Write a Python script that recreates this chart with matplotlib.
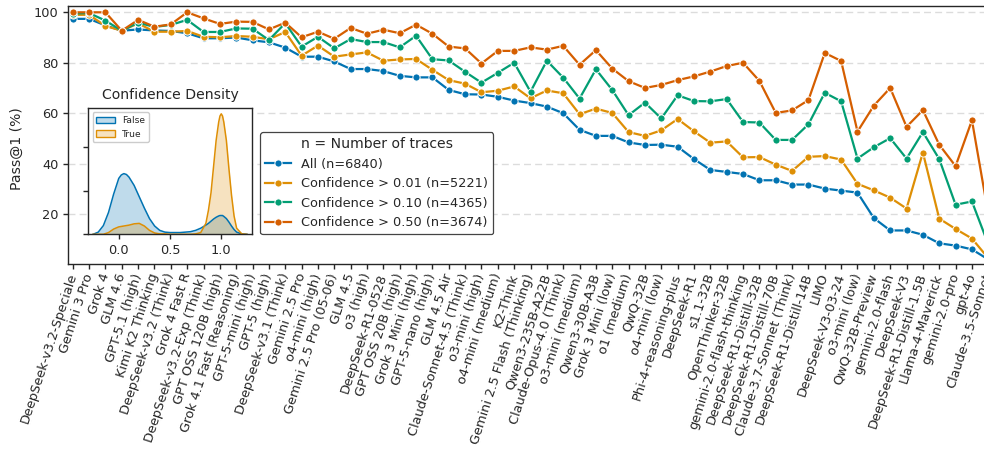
import matplotlib
matplotlib.use("Agg")
import matplotlib.pyplot as plt
from matplotlib.patches import Patch
import numpy as np

# models, ordered as on the x axis
models = [
    "DeepSeek-v3.2-Speciale", "Gemini 3 Pro", "Grok 4", "GLM 4.6", "GPT-5.1 (high)",
    "Kimi K2 Thinking", "DeepSeek-v3.2 (Think)", "Grok 4 Fast R", "DeepSeek-v3.2-Exp (Think)",
    "GPT OSS 120B (high)", "Grok 4.1 Fast (Reasoning)", "GPT-5-mini (high)", "GPT-5 (high)",
    "DeepSeek-v3.1 (Think)", "Gemini 2.5 Pro", "o4-mini (high)", "Gemini 2.5 Pro (05-06)",
    "GLM 4.5", "o3 (high)", "DeepSeek-R1-0528", "GPT OSS 20B (high)", "Grok 3 Mini (high)",
    "GPT-5-nano (high)", "GLM 4.5 Air", "Claude-Sonnet-4.5 (Think)", "o3-mini (high)",
    "o4-mini (medium)", "K2-Think", "Gemini 2.5 Flash (Thinking)", "Qwen3-235B-A22B",
    "Claude-Opus-4.0 (Think)", "o3-mini (medium)", "Qwen3-30B-A3B", "Grok 3 Mini (low)",
    "o1 (medium)", "QwQ-32B", "o4-mini (low)", "Phi-4-reasoning-plus", "DeepSeek-R1",
    "s1.1-32B", "OpenThinker-32B", "gemini-2.0-flash-thinking", "DeepSeek-R1-Distill-32B",
    "DeepSeek-R1-Distill-70B", "Claude-3.7-Sonnet (Think)", "DeepSeek-R1-Distill-14B", "LIMO",
    "DeepSeek-V3-03-24", "o3-mini (low)", "QwQ-32B-Preview", "gemini-2.0-flash", "DeepSeek-V3",
    "DeepSeek-R1-Distill-1.5B", "Llama-4-Maverick", "gemini-2.0-pro", "gpt-4o",
    "Claude-3.5-Sonnet",
]

all_traces = [97.4, 97.4, 94.8, 92.7, 93.2, 92.8, 92.6, 91.7, 89.7, 89.7,
              90.0, 88.9, 88.1, 86.0, 82.4, 82.4, 80.5, 77.5, 77.5, 76.7,
              74.8, 74.2, 74.2, 69.2, 67.5, 67.4, 66.5, 65.0, 64.0, 62.6,
              60.0, 53.4, 51.0, 51.0, 48.4, 47.4, 47.5, 46.7, 41.8, 37.5,
              36.7, 35.9, 33.4, 33.4, 31.7, 31.7, 30.1, 29.3, 28.5, 18.4,
              13.5, 13.5, 11.8, 8.4, 7.5, 6.0, 2.0]
conf_001 = [99.0, 99.0, 94.6, 92.7, 95.6, 92.3, 92.3, 92.6, 90.3, 90.1,
            90.6, 90.3, 89.3, 92.2, 82.8, 86.8, 82.4, 83.3, 84.1, 80.8,
            81.3, 81.5, 77.2, 73.1, 71.7, 68.3, 68.9, 70.6, 65.9, 69.0,
            67.9, 59.6, 61.8, 60.1, 52.5, 51.0, 53.2, 57.7, 52.8, 48.3,
            48.8, 42.5, 42.6, 39.6, 37.1, 42.7, 43.0, 41.6, 32.0, 29.4,
            26.5, 22.2, 44.4, 18.2, 14.1, 10.3, 2.5]
conf_010 = [99.5, 99.7, 96.7, 92.7, 95.9, 94.2, 95.0, 97.0, 92.2, 92.2,
            93.6, 93.5, 89.0, 95.7, 86.4, 90.3, 85.7, 89.4, 88.2, 88.2,
            86.1, 90.7, 81.4, 80.9, 76.4, 72.1, 76.0, 80.0, 68.5, 80.8,
            74.1, 65.8, 77.4, 69.2, 59.2, 64.2, 57.9, 67.1, 64.8, 64.7,
            65.6, 56.5, 56.3, 49.4, 49.4, 55.6, 68.1, 64.7, 42.0, 46.5,
            50.1, 42.0, 52.5, 41.8, 23.7, 25.0, 8.0]
conf_050 = [100.0, 100.0, 100.0, 92.7, 97.0, 94.3, 95.2, 100.0, 97.6, 95.4,
            96.3, 96.2, 93.2, 95.9, 90.1, 92.3, 89.5, 93.8, 91.5, 93.1,
            91.7, 95.1, 91.5, 86.4, 85.7, 79.7, 84.7, 84.7, 86.1, 85.2,
            86.7, 79.2, 85.0, 77.7, 72.7, 70.0, 71.2, 73.1, 74.6, 76.5,
            78.7, 80.0, 72.8, 60.1, 61.1, 65.2, 83.9, 80.7, 52.7, 63.0,
            70.0, 54.6, 61.2, 47.5, 39.0, 57.2, 20.0]

series_labels = ["All (n=6840)", "Confidence > 0.01 (n=5221)",
                 "Confidence > 0.10 (n=4365)", "Confidence > 0.50 (n=3674)"]
colors = ["#0173b2", "#de8f05", "#029e73", "#d55e00"]

# confidence density (inset)
conf_grid = [-0.25, -0.2, -0.15, -0.1, -0.05, 0.0, 0.025, 0.05, 0.075, 0.1, 0.15, 0.2,
             0.25, 0.3, 0.35, 0.4, 0.45, 0.5, 0.6, 0.7, 0.75, 0.8, 0.85, 0.875, 0.9,
             0.925, 0.95, 0.975, 0.9875, 1.0, 1.0125, 1.025, 1.05, 1.075, 1.1, 1.125,
             1.15, 1.2, 1.25]
density_false = [0.0, 0.05, 0.2, 0.5, 0.92, 1.28, 1.36, 1.39, 1.37, 1.31, 1.12, 0.86,
                 0.6, 0.36, 0.19, 0.09, 0.05, 0.04, 0.04, 0.06, 0.09, 0.14, 0.21, 0.25,
                 0.30, 0.35, 0.39, 0.42, 0.43, 0.43, 0.43, 0.41, 0.36, 0.28, 0.19, 0.11,
                 0.05, 0.01, 0.0]
density_true = [0.0, 0.0, 0.0, 0.04, 0.12, 0.17, 0.18, 0.19, 0.20, 0.21, 0.24, 0.25,
                0.19, 0.09, 0.03, 0.01, 0.01, 0.0, 0.0, 0.0, 0.01, 0.04, 0.25, 0.55,
                0.95, 1.55, 2.15, 2.57, 2.71, 2.76, 2.71, 2.57, 2.15, 1.5, 0.9, 0.42,
                0.14, 0.01, 0.0]

ink = "#262626"
plt.rcParams.update({
    "font.family": "DejaVu Sans",
    "font.size": 9.25,
    "text.color": ink,
    "axes.edgecolor": ink,
    "axes.labelcolor": ink,
    "axes.linewidth": 1.0,
    "xtick.color": ink,
    "ytick.color": ink,
    "xtick.major.size": 3.5,
    "ytick.major.size": 3.5,
    "xtick.major.width": 1.0,
    "ytick.major.width": 1.0,
})

W, H = 984, 451
fig = plt.figure(figsize=(W / 100, H / 100), dpi=100)

# main axes (right end runs past the figure edge, as in the source)
ax = fig.add_axes([68.3 / W, 1 - 264 / H, 924.4 / W, 258 / H])
x = np.arange(len(models))
for vals, lab, c in zip([all_traces, conf_001, conf_010, conf_050], series_labels, colors):
    ax.plot(x, vals, color=c, lw=1.6, marker="o", ms=5.2, mec="white", mew=0.7, label=lab)

ax.set_xlim(-0.27, len(models) - 1 + 0.27)
ax.set_ylim(0.2, 102.5)
ax.set_yticks([20, 40, 60, 80, 100])
ax.tick_params(axis="both", labelsize=9.25)
ax.set_xticks(x)
ax.set_xticklabels(models, rotation=72, ha="right", va="center", rotation_mode="anchor")
ax.yaxis.grid(True, linestyle=(0, (5, 3)), color="#dcdcdc", lw=1.0)
ax.set_axisbelow(True)
ax.set_ylabel("Pass@1 (%)", fontsize=10.1)
ax.yaxis.set_label_coords(-0.048, 0.446)

leg = ax.legend(title="n = Number of traces", loc="lower left",
                bbox_to_anchor=(0.2074, 0.115), borderaxespad=0,
                fontsize=9.25, title_fontsize=10.1, frameon=True, fancybox=True,
                framealpha=1.0, edgecolor="#444444")
leg.get_frame().set_linewidth(0.9)

# inset: confidence density
axin = fig.add_axes([88 / W, 1 - 234.3 / H, 164 / W, 126.6 / H])
axin.fill_between(conf_grid, density_false, color=colors[0], alpha=0.25, lw=0)
axin.plot(conf_grid, density_false, color=colors[0], lw=1.1)
axin.fill_between(conf_grid, density_true, color=colors[1], alpha=0.25, lw=0)
axin.plot(conf_grid, density_true, color=colors[1], lw=1.1)
axin.set_xlim(-0.30, 1.30)
axin.set_ylim(0, 2.9)
axin.set_yticks([0, 1, 2])
axin.set_yticklabels([])
axin.set_xticks([0, 0.5, 1.0])
axin.set_xticklabels(["0.0", "0.5", "1.0"])
axin.tick_params(axis="both", labelsize=9.25)
axin.set_title("Confidence Density", fontsize=10.1)
handles = [Patch(facecolor=matplotlib.colors.to_rgba(colors[0], 0.25), edgecolor=colors[0], label="False"),
           Patch(facecolor=matplotlib.colors.to_rgba(colors[1], 0.25), edgecolor=colors[1], label="True")]
axin.legend(handles=handles, loc="upper left", fontsize=6.6, framealpha=1.0)

fig.savefig("out.png", dpi=100)
